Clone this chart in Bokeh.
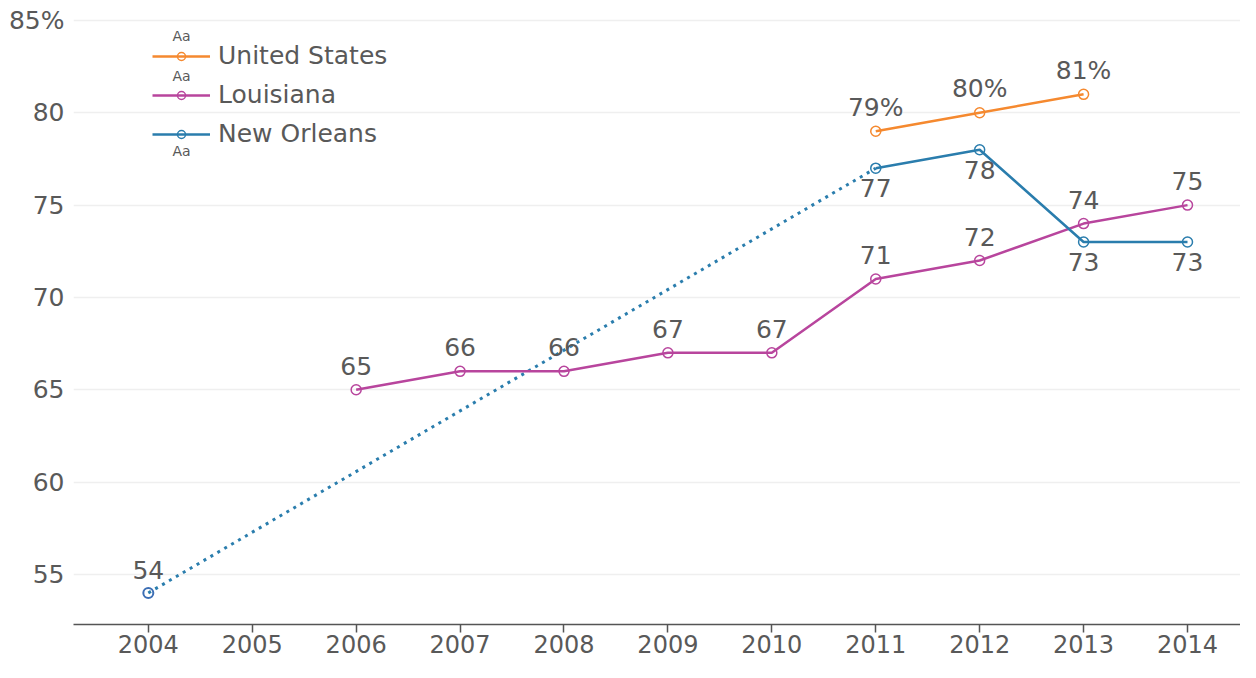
from bokeh.plotting import figure
from bokeh.models import ColumnDataSource, Legend, LegendItem, FixedTicker, Range1d, Label
from bokeh.embed import file_html
from bokeh.resources import INLINE
from bokeh.core.properties import value

# ---- data ----
years = [2004, 2005, 2006, 2007, 2008, 2009, 2010, 2011, 2012, 2013, 2014]
us_years = [2011, 2012, 2013]
us_values = [79, 80, 81]
us_labels = ["79%", "80%", "81%"]
la_years = [2006, 2007, 2008, 2009, 2010, 2011, 2012, 2013, 2014]
la_values = [65, 66, 66, 67, 67, 71, 72, 74, 75]
no_years = [2004, 2011, 2012, 2013, 2014]
no_values = [54, 77, 78, 73, 73]
y_ticks = [55, 60, 65, 70, 75, 80, 85]
y_tick_labels = ["55", "60", "65", "70", "75", "80", "85%"]

# ---- style ----
FONT = "DejaVu Sans"
TXT = "#595959"
C_US = "#F5892F"
C_LA = "#B8459D"
C_NO = "#2A7DAD"

p = figure(width=1240, height=662, output_backend="svg", toolbar_location=None,
           x_range=Range1d(2003.28, 2014.51), y_range=Range1d(52.29, 86.08),
           min_border_left=73, min_border_right=0, min_border_top=0, min_border_bottom=38)
p.outline_line_color = None
p.background_fill_color = "white"
p.border_fill_color = "white"

p.xgrid.grid_line_color = None
p.ygrid.grid_line_color = "#EFEFEF"
p.ygrid.grid_line_width = 1.5

p.xaxis.ticker = FixedTicker(ticks=years)
p.xaxis.major_label_overrides = {y: str(y) for y in years}
p.xaxis.axis_line_color = "#555555"
p.xaxis.axis_line_width = 1.5
p.xaxis.major_tick_line_color = "#555555"
p.xaxis.major_tick_line_width = 1.5
p.xaxis.major_tick_out = 8
p.xaxis.major_tick_in = 0
p.xaxis.minor_tick_line_color = None
p.xaxis.major_label_standoff = 2
p.xaxis.major_label_text_font = FONT
p.xaxis.major_label_text_font_size = "24px"
p.xaxis.major_label_text_color = TXT

p.yaxis.ticker = FixedTicker(ticks=y_ticks)
p.yaxis.major_label_overrides = dict(zip(y_ticks, y_tick_labels))
p.yaxis.axis_line_color = None
p.yaxis.major_tick_line_color = None
p.yaxis.minor_tick_line_color = None
p.yaxis.major_label_standoff = 3
p.yaxis.major_label_text_font = FONT
p.yaxis.major_label_text_font_size = "25px"
p.yaxis.major_label_text_color = TXT

# ---- sources ----
us_src = ColumnDataSource(dict(x=us_years, y=us_values, t=us_labels))
la_src = ColumnDataSource(dict(x=la_years, y=la_values, t=[str(v) for v in la_values]))
no_src = ColumnDataSource(dict(x=no_years[1:], y=no_values[1:], t=[str(v) for v in no_values[1:]]))
no_gap = ColumnDataSource(dict(x=no_years[:2], y=no_values[:2]))
no_first = ColumnDataSource(dict(x=no_years[:1], y=no_values[:1], t=[str(no_values[0])]))

# New Orleans dotted gap segment
p.line("x", "y", source=no_gap, line_color=C_NO, line_width=3, line_dash="3 5")

l_la = p.line("x", "y", source=la_src, line_color=C_LA, line_width=2.5)
s_la = p.scatter("x", "y", source=la_src, size=10, fill_color=None, line_color=C_LA, line_width=1.5)
l_no = p.line("x", "y", source=no_src, line_color=C_NO, line_width=2.5)
s_no = p.scatter("x", "y", source=no_src, size=10, fill_color=None, line_color=C_NO, line_width=1.5)
s_no0 = p.scatter("x", "y", source=no_first, size=10, fill_color=None, line_color="#3C6EB4", line_width=2)
l_us = p.line("x", "y", source=us_src, line_color=C_US, line_width=2.5)
s_us = p.scatter("x", "y", source=us_src, size=10, fill_color=None, line_color=C_US, line_width=1.5)

# ---- value labels ----
kw = dict(text_font=value(FONT), text_font_size="25px", text_color=TXT, text_align="center",
          text_baseline="middle")
p.text("x", "y", text="t", source=us_src, y_offset=-24, **kw)
p.text("x", "y", text="t", source=la_src, y_offset=-24, **kw)
p.text("x", "y", text="t", source=no_first, y_offset=-23, **kw)
p.text("x", "y", text="t", source=no_src, y_offset=20, **kw)

# ---- legend ----
legend = Legend(items=[LegendItem(label="United States", renderers=[l_us, s_us]),
                       LegendItem(label="Louisiana", renderers=[l_la, s_la]),
                       LegendItem(label="New Orleans", renderers=[l_no, s_no])],
                location=(79, 476), orientation="vertical",
                glyph_width=58, glyph_height=20, label_height=20, spacing=10,
                padding=0, margin=0, label_standoff=8,
                label_text_font=FONT, label_text_font_size="25px", label_text_color=TXT,
                background_fill_alpha=0, border_line_color=None)
p.add_layout(legend)

for sx, sy in [(108, 589), (108, 549), (108, 474)]:
    p.add_layout(Label(x=sx, y=sy, x_units="screen", y_units="screen", text="Aa",
                       text_font=FONT, text_font_size="14px", text_color=TXT,
                       text_align="center", text_baseline="middle"))

open("out.html", "w").write(file_html(p, INLINE))
